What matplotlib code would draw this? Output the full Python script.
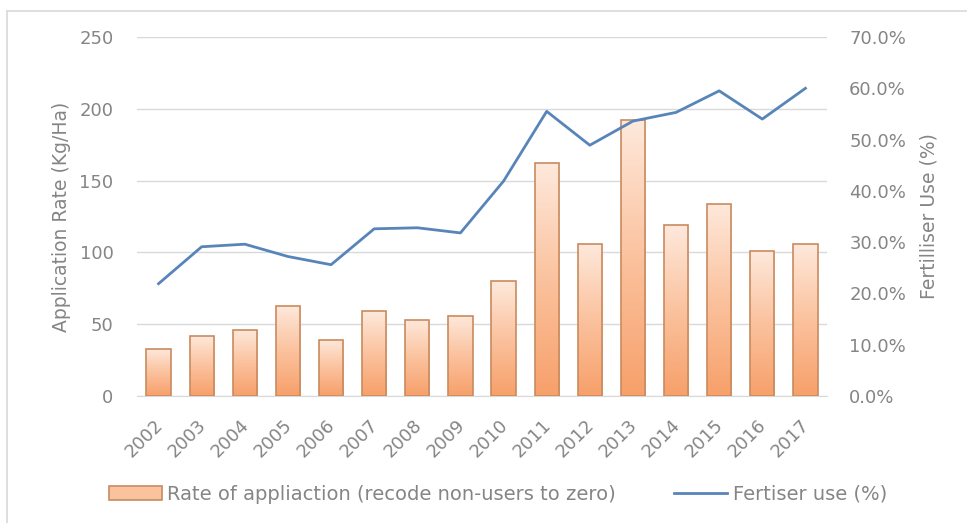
import numpy as np
import matplotlib
matplotlib.use("Agg")
import matplotlib.pyplot as plt
from matplotlib.patches import Patch
from matplotlib.lines import Line2D
from matplotlib.colors import LinearSegmentedColormap
from matplotlib.ticker import FuncFormatter, MultipleLocator
from matplotlib.transforms import ScaledTranslation

# Data
years = ["2002", "2003", "2004", "2005", "2006", "2007", "2008", "2009",
         "2010", "2011", "2012", "2013", "2014", "2015", "2016", "2017"]
application_rate = [33, 42, 46, 63, 39, 59, 53, 56, 80, 162, 106, 192, 119, 134, 101, 106]
fertiliser_use = [21.9, 29.1, 29.6, 27.2, 25.6, 32.6, 32.8, 31.8, 41.9, 55.5, 48.9,
                  53.6, 55.3, 59.5, 54.0, 60.0]

bar_label = "Rate of appliaction (recode non-users to zero)"
line_label = "Fertiser use (%)"
left_title = "Application Rate (Kg/Ha)"
right_title = "Fertilliser Use (%)"

plt.rcParams["font.family"] = ["DejaVu Sans"]
text_gray = "#858585"
grid_gray = "#d9d9d9"
line_blue = "#5785ba"
edge_orange = "#c98b60"
FS = 13

W, H = 967, 523
fig = plt.figure(figsize=(W / 100, H / 100), dpi=100)

# Outer chart border (top and left edges)
fig.add_artist(Line2D([7 / W, 7 / W], [0, 1 - 11 / H], color=grid_gray, lw=1.2,
                      transform=fig.transFigure))
fig.add_artist(Line2D([7 / W, 1], [1 - 11 / H, 1 - 11 / H], color=grid_gray, lw=1.2,
                      transform=fig.transFigure))

left, right = 137 / W, 827 / W
bottom, top = 1 - 396 / H, 1 - 37 / H
ax = fig.add_axes([left, bottom, right - left, top - bottom])
ax2 = ax.twinx()

x = np.arange(len(years))

# Gradient-filled bars
cmap = LinearSegmentedColormap.from_list("peach", ["#f7a06a", "#fbc29e", "#fee9dc"])
grad = np.linspace(0, 1, 256).reshape(-1, 1)
bars = ax.bar(x, application_rate, width=0.56, facecolor="none",
              edgecolor=edge_orange, linewidth=1.2, zorder=3)
for b in bars:
    bx, by = b.get_x(), b.get_y()
    bw, bh = b.get_width(), b.get_height()
    im = ax.imshow(grad, cmap=cmap, origin="lower", aspect="auto",
                   extent=[bx, bx + bw, by, by + bh], zorder=2)
    im.set_clip_path(b)
ax.set_xlim(-0.5, len(years) - 0.5)
ax.set_ylim(0, 250)
ax2.set_ylim(0, 70)

ax2.plot(x, fertiliser_use, color=line_blue, lw=2.0, zorder=4)

# Axes styling
ax.yaxis.set_major_locator(MultipleLocator(50))
ax.grid(axis="y", color=grid_gray, lw=1)
ax.set_axisbelow(True)
for s in ["top", "right", "left"]:
    ax.spines[s].set_visible(False)
    ax2.spines[s].set_visible(False)
ax.spines["bottom"].set_color(grid_gray)
ax2.spines["bottom"].set_visible(False)

ax.tick_params(axis="both", length=0, colors=text_gray, labelsize=FS)
ax.tick_params(axis="y", pad=17)
ax2.tick_params(axis="y", length=0, colors=text_gray, labelsize=FS, pad=16)
ax2.yaxis.set_major_locator(MultipleLocator(10))
ax2.yaxis.set_major_formatter(FuncFormatter(lambda v, p: f"{v:.1f}%"))

ax.set_xticks(x)
ax.set_xticklabels(years, rotation=45, ha="right", rotation_mode="anchor")
ax.tick_params(axis="x", pad=6)
shift = ScaledTranslation(-5 / 100, -12 / 100, fig.dpi_scale_trans)
for lbl in ax.get_xticklabels():
    lbl.set_transform(lbl.get_transform() + shift)

ax.set_ylabel(left_title, color=text_gray, fontsize=13.5, labelpad=6)
ax2.set_ylabel(right_title, color=text_gray, fontsize=13.5, labelpad=10)

# Legend
handles = [Patch(facecolor="#fbc29e", edgecolor=edge_orange, lw=1.2),
           Line2D([0], [0], color=line_blue, lw=2.0)]
fig.legend(handles, [bar_label, line_label], loc="center",
           bbox_to_anchor=(0.515, 1 - 494 / H), ncol=2, frameon=False,
           fontsize=14, labelcolor=text_gray, handlelength=2.7, handleheight=0.75,
           columnspacing=3.0, handletextpad=0.3)

fig.savefig("out.png", dpi=100)
